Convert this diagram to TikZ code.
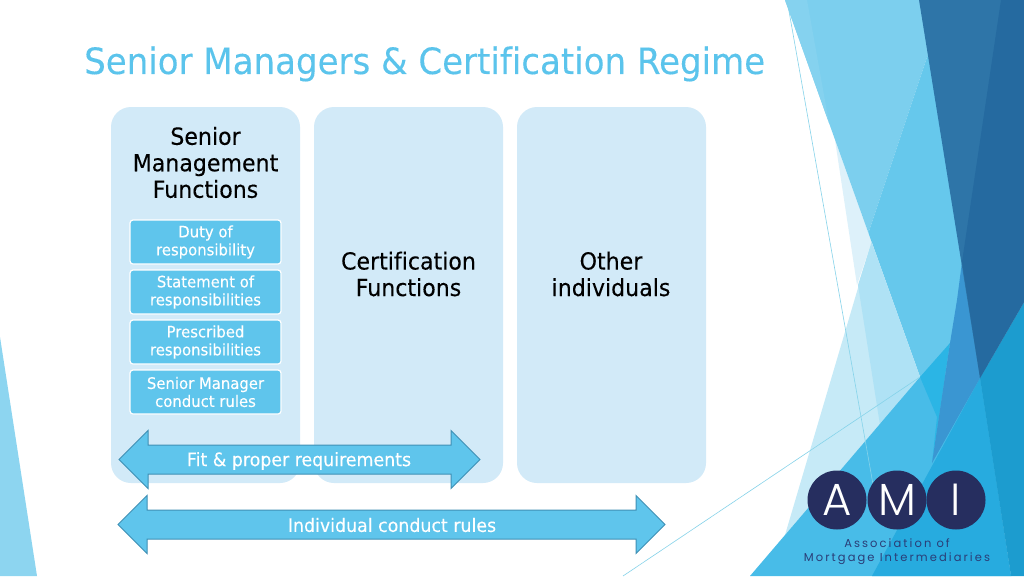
\documentclass[tikz,border=0pt]{standalone}
\usepackage{fontspec}
\usetikzlibrary{shapes.arrows}
\setmainfont[FakeStretch=0.94,FakeBold=0.15,Ligatures=NoCommon]{DejaVu Sans}
\newfontfamily\logofont{Poppins Light}
\newfontfamily\logotext[LetterSpace=18]{Poppins}
\definecolor{titlec}{HTML}{5BC4EC}
\definecolor{panelc}{HTML}{D2EAF8}
\definecolor{subc}{HTML}{5FC5EC}
\definecolor{arrowline}{HTML}{3F90B5}
\definecolor{navy}{HTML}{262E5F}
\definecolor{navyt}{HTML}{2A3E78}
\definecolor{hairc}{HTML}{86D3EA}
\newcommand\hexfill[2]{\definecolor{tmpc}{HTML}{#1}\fill[tmpc] #2;}
\tikzset{
  panel/.style={rounded corners=20pt,fill=panelc,draw=none},
  subbox/.style={draw=white,line width=1.2pt,fill=subc,rounded corners=3pt,text=white,
    minimum width=151pt,minimum height=44pt,inner sep=0pt,align=center,font=\fontsize{15.8}{18}\selectfont},
  headtext/.style={align=center,text=black,font=\fontsize{23.5}{26.5}\selectfont,inner sep=0pt},
  dbl/.style={double arrow,double arrow tip angle=90,double arrow head extend=14.5pt,
    inner xsep=0pt,inner ysep=14pt,fill=subc,draw=arrowline,line width=1pt},
  arrowtext/.style={text=white,inner sep=0pt,font=\fontsize{18.5}{20}\selectfont},
  hair/.style={draw=hairc,line width=.6pt},
  circ/.style={circle,fill=navy,minimum size=59pt,inner sep=0pt,text=white,font=\logofont\fontsize{45}{45}\selectfont}
}
\begin{document}
\begin{tikzpicture}[x=1pt,y=-1pt]
\useasboundingbox (0,0) rectangle (1024,576);
\fill[white] (0,0) rectangle (1024,576);
% left sliver
\hexfill{8DD5F0}{(0,337) -- (37,576) -- (0,576) -- cycle}
% upper light shapes
\hexfill{DDF1FA}{(835,140) -- (871.6,242) -- (857,285) -- cycle}
\hexfill{7CCFEE}{(785,0) -- (930,0) -- (935,57) -- (927,57) -- (868.4,233) -- cycle}
\hexfill{85D2EF}{(785,0) -- (807,0) -- (829,123) -- cycle}
\hexfill{66C8EC}{(927,57) -- (940,57) -- (990,378) -- (920,377) -- (868.4,233) -- cycle}
% lower light triangle
\hexfill{C6EAF7}{(871.6,242) -- (920,377) -- (785,535) -- cycle}
\hexfill{AFE2F5}{(871.6,242) -- (920,377) -- (880,425) -- (858,285) -- cycle}
% bottom right
\hexfill{48BCE8}{(920,377) -- (981,378) -- (1011,576) -- (750,576) -- cycle}
\hexfill{2BB5E5}{(920,377) -- (950,343) -- (932,463) -- (937,417) -- cycle}
\hexfill{27ABDF}{(980,378) -- (1011,576) -- (872,576) -- cycle}
\hexfill{1C9CCF}{(1024,302) -- (980,378) -- (1011,576) -- (1024,576) -- cycle}
\hexfill{3A96D2}{(957,300) -- (962,262) -- (980,378) -- (932,463) -- (950,343) -- cycle}
% dark
\hexfill{2E75A8}{(919,0) -- (1024,0) -- (1024,302) -- (980,378) -- cycle}
\hexfill{256AA0}{(1001,0) -- (1024,0) -- (1024,302) -- (980,378) -- (962,262) -- cycle}
% hairlines
\coordinate (h1a) at (787,0);
\coordinate (h1b) at (874,490);
\coordinate (h2a) at (920,377);
\coordinate (h2b) at (623,576);
\draw[hair] (h1a) -- (h1b);
\draw[hair] (h2a) -- (h2b);
% title
\node[anchor=west,inner sep=0pt,text=titlec,font=\fontsize{36.2}{40}\selectfont] (title) at (84,64) {Senior Managers \& Certification Regime};
% panels
\node[panel,minimum width=189pt,minimum height=376pt,inner sep=0pt] (p1) at (205.5,295) {};
\node[panel,minimum width=189pt,minimum height=376pt,inner sep=0pt] (p2) at (408.5,295) {};
\node[panel,minimum width=189pt,minimum height=376pt,inner sep=0pt] (p3) at (611.5,295) {};
\node[headtext] (t1) at (205.5,162.5) {Senior\\Management\\Functions};
\node[headtext] (t2) at (408.5,274) {Certification\\Functions};
\node[headtext] (t3) at (611,274) {Other\\individuals};
\node[subbox] (s1) at (205.5,242) {Duty of\\responsibility};
\node[subbox] (s2) at (205.5,292) {Statement of\\responsibilities};
\node[subbox] (s3) at (205.5,342) {Prescribed\\responsibilities};
\node[subbox] (s4) at (205.5,392) {Senior Manager\\conduct rules};
% arrows
\node[dbl,minimum height=361pt] (a1) at (299.5,459.5) {};
\node[dbl,minimum height=547pt] (a2) at (391.5,524.5) {};
\node[arrowtext] (a1t) at (299,461) {Fit \& proper requirements};
\node[arrowtext] (a2t) at (392,525) {Individual conduct rules};
% logo
\node[circ] (la) at (837,500) {A};
\node[circ] (lm) at (897,500) {M};
\node[circ] (li) at (956,500) {I};
\node[inner sep=0pt,align=center,text=navyt,font=\logotext\fontsize{11.5}{14}\selectfont] (lt) at (897,551.5) {Association of\\Mortgage Intermediaries};
\end{tikzpicture}
\end{document}
